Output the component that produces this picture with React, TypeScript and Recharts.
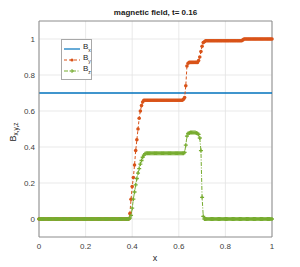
import { LineChart, Line, XAxis, YAxis, CartesianGrid, Legend, ReferenceLine, Label } from "recharts"

// sample spacing of the x grid (201 samples from 0 to 1)
const xStep = 0.005

const byValues = [
  // x = 0 .. 0.385
  0, 0, 0, 0, 0, 0, 0, 0, 0, 0, 0, 0, 0, 0, 0, 0, 0, 0, 0, 0,
  0, 0, 0, 0, 0, 0, 0, 0, 0, 0, 0, 0, 0, 0, 0, 0, 0, 0, 0, 0,
  0, 0, 0, 0, 0, 0, 0, 0, 0, 0, 0, 0, 0, 0, 0, 0, 0, 0, 0, 0,
  0, 0, 0, 0, 0, 0, 0, 0, 0, 0, 0, 0, 0, 0, 0, 0, 0, 0,
  // x = 0.39 .. 0.45
  0.03, 0.11, 0.18, 0.23, 0.3, 0.38, 0.44, 0.5, 0.56, 0.6, 0.63, 0.65, 0.66,
  // x = 0.455 .. 0.615
  0.66, 0.66, 0.66, 0.66, 0.66, 0.66, 0.66, 0.66, 0.66, 0.66, 0.66,
  0.66, 0.66, 0.66, 0.66, 0.66, 0.66, 0.66, 0.66, 0.66, 0.66, 0.66,
  0.66, 0.66, 0.66, 0.66, 0.66, 0.66, 0.66, 0.66, 0.66, 0.66, 0.66,
  // x = 0.62 .. 0.64
  0.665, 0.675, 0.74, 0.85, 0.865,
  // x = 0.645 .. 0.68
  0.87, 0.87, 0.87, 0.87, 0.87, 0.87, 0.87, 0.87,
  // x = 0.685 .. 0.71
  0.88, 0.9, 0.93, 0.96, 0.98, 0.985,
  // x = 0.715 .. 0.875
  0.99, 0.99, 0.99, 0.99, 0.99, 0.99, 0.99, 0.99, 0.99, 0.99, 0.99,
  0.99, 0.99, 0.99, 0.99, 0.99, 0.99, 0.99, 0.99, 0.99, 0.99, 0.99,
  0.99, 0.99, 0.99, 0.99, 0.99, 0.99, 0.99, 0.99, 0.99, 0.99, 0.995,
  // x = 0.88 .. 1
  1, 1, 1, 1, 1, 1, 1, 1, 1, 1, 1, 1, 1,
  1, 1, 1, 1, 1, 1, 1, 1, 1, 1, 1, 1,
]

const bzValues = [
  // x = 0 .. 0.385
  0, 0, 0, 0, 0, 0, 0, 0, 0, 0, 0, 0, 0, 0, 0, 0, 0, 0, 0, 0,
  0, 0, 0, 0, 0, 0, 0, 0, 0, 0, 0, 0, 0, 0, 0, 0, 0, 0, 0, 0,
  0, 0, 0, 0, 0, 0, 0, 0, 0, 0, 0, 0, 0, 0, 0, 0, 0, 0, 0, 0,
  0, 0, 0, 0, 0, 0, 0, 0, 0, 0, 0, 0, 0, 0, 0, 0, 0, 0,
  // x = 0.39 .. 0.455
  0.005, 0.02, 0.06, 0.11, 0.15, 0.19, 0.225, 0.255, 0.28, 0.305, 0.325, 0.343, 0.355, 0.362,
  // x = 0.46 .. 0.62
  0.365, 0.365, 0.365, 0.365, 0.365, 0.365, 0.365, 0.365, 0.365, 0.365, 0.365,
  0.365, 0.365, 0.365, 0.365, 0.365, 0.365, 0.365, 0.365, 0.365, 0.365, 0.365,
  0.365, 0.365, 0.365, 0.365, 0.365, 0.365, 0.365, 0.365, 0.365, 0.365, 0.365,
  // x = 0.625 .. 0.64
  0.37, 0.41, 0.46, 0.475,
  // x = 0.645 .. 0.68
  0.478, 0.48, 0.48, 0.48, 0.48, 0.48, 0.478, 0.475,
  // x = 0.685 .. 0.705
  0.47, 0.45, 0.38, 0.12, 0.015,
  // x = 0.71 .. 1
  0, 0, 0, 0, 0, 0, 0, 0, 0, 0, 0, 0, 0, 0, 0, 0, 0, 0, 0, 0,
  0, 0, 0, 0, 0, 0, 0, 0, 0, 0, 0, 0, 0, 0, 0, 0, 0, 0, 0, 0,
  0, 0, 0, 0, 0, 0, 0, 0, 0, 0, 0, 0, 0, 0, 0, 0, 0, 0, 0,
]

// Bx is constant, two end points are enough
const bxX = [0, 1]
const bxValues = [0.7, 0.7]

const xTicks = [0, 0.2, 0.4, 0.6, 0.8, 1]
const yTicks = [0, 0.2, 0.4, 0.6, 0.8, 1]

const data = byValues.map((by, i) => ({ x: +(i * xStep).toFixed(3), by, bz: bzValues[i] }))
const bxData = bxX.map((x, i) => ({ x, bx: bxValues[i] }))

const colors = {
  bx: "#0072BD",
  by: "#D95319",
  bz: "#77AC30",
  grid: "#e3e3e3",
  axis: "#8c8c8c",
  text: "#404040",
}

const font = "'Liberation Sans', Arial, sans-serif"

const DotMarker = (props: any) => {
  const { cx, cy, index } = props
  if (cx == null || cy == null) return <g key={index} />
  return <circle key={index} cx={cx} cy={cy} r={1.8} fill={colors.by} />
}

const PlusMarker = (props: any) => {
  const { cx, cy, index } = props
  if (cx == null || cy == null) return <g key={index} />
  return (
    <path
      key={index}
      d={`M${cx - 2},${cy}H${cx + 2}M${cx},${cy - 2}V${cy + 2}`}
      stroke={colors.bz}
      strokeWidth={1.3}
      fill="none"
    />
  )
}

const legendItems = [
  { sub: "x", color: colors.bx, dash: undefined, marker: "none" },
  { sub: "y", color: colors.by, dash: "3 2", marker: "dot" },
  { sub: "z", color: colors.bz, dash: "4 1.5 1 1.5", marker: "plus" },
]

const LegendBox = () => (
  <div
    style={{
      border: "1px solid #a8a8a8",
      background: "#fff",
      width: 27,
      padding: "3px 0 3px 2px",
      fontFamily: font,
      fontSize: 8,
      color: "#262626",
    }}
  >
    {legendItems.map((it) => (
      <div key={it.sub} style={{ display: "flex", alignItems: "center", height: 11 }}>
        <svg width={17} height={8} style={{ display: "block" }}>
          <line x1={0} y1={4} x2={16} y2={4} stroke={it.color} strokeWidth={1.2} strokeDasharray={it.dash} />
          {it.marker === "dot" && <circle cx={8} cy={4} r={1.6} fill={it.color} />}
          {it.marker === "plus" && (
            <path d="M6,4H10M8,2V6" stroke={it.color} strokeWidth={1} />
          )}
        </svg>
        <span style={{ marginLeft: 2, lineHeight: "8px" }}>
          B<sub style={{ fontSize: 5 }}>{it.sub}</sub>
        </span>
      </div>
    ))}
  </div>
)

const YLabel = () => (
  <text
    x={15.5}
    y={132}
    transform="rotate(-90, 15.5, 132)"
    textAnchor="middle"
    fontFamily={font}
    fontSize={9}
    fill="#262626"
  >
    B
    <tspan dy={2.5} fontSize={6.5}>
      x,y,z
    </tspan>
  </text>
)

const XLabel = () => (
  <text x={155} y={261} textAnchor="middle" fontFamily={font} fontSize={9} fill="#262626">
    x
  </text>
)

export default function App() {
  return (
    <div style={{ position: "absolute", left: 0, top: 0, width: 300, height: 267, background: "#fff" }}>
      <div
        style={{
          position: "absolute",
          left: 0,
          top: 8,
          width: 311,
          textAlign: "center",
          fontFamily: font,
          fontWeight: "bold",
          fontSize: 8,
          color: "#1a1a1a",
        }}
      >
        magnetic field, t= 0.16
      </div>
      <LineChart width={300} height={267} data={data} margin={{ top: 21, right: 28, bottom: 10, left: 0 }}>
        <CartesianGrid stroke={colors.grid} strokeWidth={0.8} horizontalValues={yTicks} verticalValues={xTicks} />
        <XAxis
          dataKey="x"
          type="number"
          domain={[0, 1]}
          ticks={xTicks}
          height={20}
          tickLine={false}
          tickSize={5}
          tickMargin={1}
          stroke={colors.axis}
          tick={{ fontSize: 8, fill: colors.text, fontFamily: font }}
          allowDecimals
        >
          <Label content={<XLabel />} />
        </XAxis>
        <YAxis
          type="number"
          domain={[-0.1, 1.1]}
          ticks={yTicks}
          width={39}
          tickLine={false}
          tickSize={3}
          tickMargin={1}
          stroke={colors.axis}
          tick={{ fontSize: 8, fill: colors.text, fontFamily: font }}
        >
          <Label content={<YLabel />} />
        </YAxis>
        <ReferenceLine y={1.1} stroke={colors.axis} />
        <ReferenceLine x={1} stroke={colors.axis} />
        <Line
          data={bxData}
          dataKey="bx"
          stroke={colors.bx}
          strokeWidth={1.3}
          dot={false}
          isAnimationActive={false}
        />
        <Line
          dataKey="by"
          stroke={colors.by}
          strokeWidth={1}
          strokeDasharray="3 2"
          dot={DotMarker}
          activeDot={false}
          isAnimationActive={false}
        />
        <Line
          dataKey="bz"
          stroke={colors.bz}
          strokeWidth={1}
          strokeDasharray="4 1.5 1 1.5"
          dot={PlusMarker}
          activeDot={false}
          isAnimationActive={false}
        />
        <Legend
          layout="vertical"
          align="center"
          verticalAlign="middle"
          content={<LegendBox />}
          wrapperStyle={{ left: 61, top: 39, width: "auto" }}
        />
      </LineChart>
    </div>
  )
}
